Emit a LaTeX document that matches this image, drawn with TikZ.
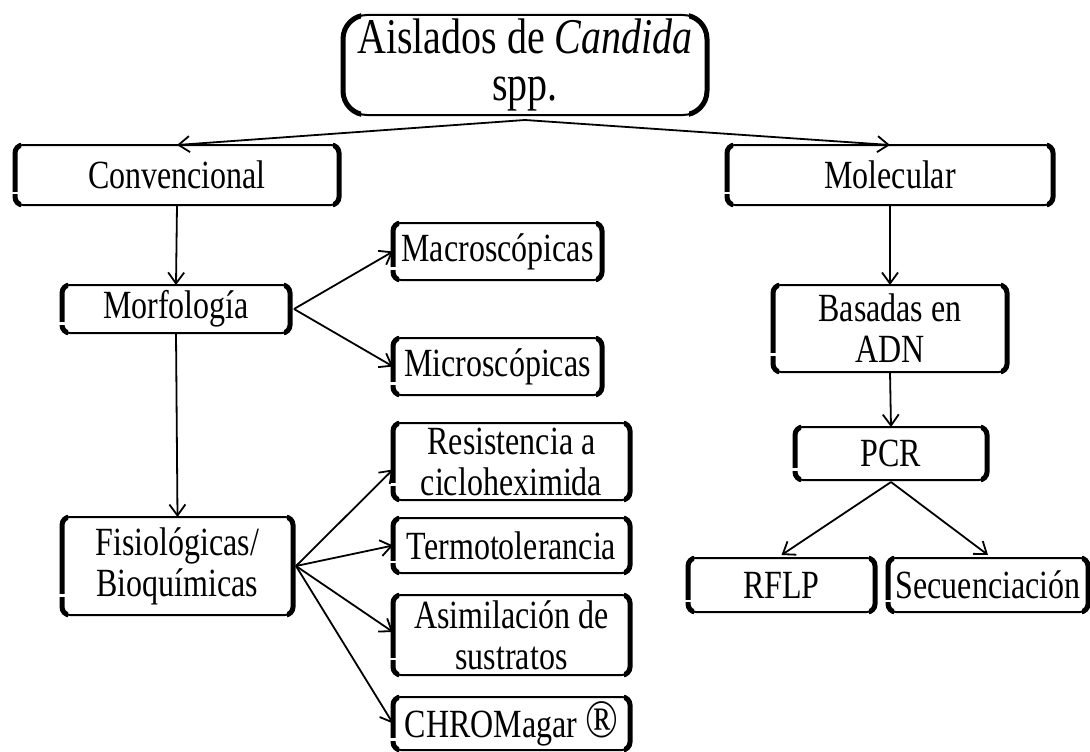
\documentclass[tikz,border=0pt]{standalone}
\usepackage{graphicx}
\usepackage{fontspec}
\setmainfont[FakeStretch=0.8]{Liberation Serif}
\usetikzlibrary{arrows.meta,calc}
\newcommand\drawoutline[3]{%
  \draw[line width=2pt, rounded corners=#2] (#1.north west) rectangle (#1.south east);
  \begin{scope}
    \clip ([shift={(-8pt,8pt)}]#1.north west) rectangle ([shift={(#3,-8pt)}]#1.south west);
    \draw[line width=5pt, rounded corners=#2] (#1.north west) rectangle (#1.south east);
  \end{scope}
  \begin{scope}
    \clip ([shift={(8pt,8pt)}]#1.north east) rectangle ([shift={(-#3,-8pt)}]#1.south east);
    \draw[line width=5pt, rounded corners=#2] (#1.north west) rectangle (#1.south east);
  \end{scope}
}
\newcommand\drawgap[1]{%
  \draw[white, line width=2.5pt] ($(#1.south west)!0.2!(#1.north west)+(-4pt,0)$) -- ++(8pt,0);
}
\begin{document}
\begin{tikzpicture}[x=1pt,y=-1pt,
  box/.style={draw=none, inner sep=0pt, outer sep=0pt, align=center,
    font=\fontsize{40}{41}\selectfont},
  arr/.style={line width=1.8pt, -{Straight Barb[length=11pt,width=16pt,line width=1.8pt]}}]
\useasboundingbox (0,0) rectangle (1090,752);
\fill[white] (0,0) rectangle (1090,752);

\node[box, font=\fontsize{50}{47}\selectfont, minimum width=364pt, minimum height=100pt] (top) at (525,65) {Aislados de \textit{Candida}\\spp.};
\node[box, minimum width=324pt, minimum height=60pt] (conv) at (177,175) {Convencional};
\node[box, minimum width=326pt, minimum height=60pt] (mol) at (890,175) {Molecular};
\node[box, minimum width=228pt, minimum height=48pt] (morf) at (176,309) {Morfología};
\node[box, minimum width=209pt, minimum height=57pt] (macro) at (497.5,251.5) {Macroscópicas};
\node[box, minimum width=209pt, minimum height=57pt] (micro) at (497.5,366.5) {Microscópicas};
\node[box, minimum width=231pt, minimum height=98pt] (fisio) at (177.5,566) {Fisiológicas/\\Bioquímicas};
\node[box, minimum width=237pt, minimum height=77pt] (resist) at (511.5,461.5) {Resistencia a\\cicloheximida};
\node[box, minimum width=237pt, minimum height=55pt] (termo) at (511.5,545.5) {Termotolerancia};
\node[box, minimum width=237pt, minimum height=80pt] (asim) at (511.5,635) {Asimilación de\\sustratos};
\node[box, minimum width=237pt, minimum height=53pt] (chrom) at (511.5,723.5) {CHROMagar \scalebox{1.35}{®}};
\node[box, minimum width=234pt, minimum height=87pt] (bas) at (890,328.5) {Basadas en\\ADN};
\node[box, minimum width=192pt, minimum height=53pt] (pcr) at (891,453.5) {PCR};
\node[box, minimum width=187pt, minimum height=54pt] (rflp) at (781.5,585) {RFLP};
\node[box, minimum width=200pt, minimum height=54pt] (secu) at (988,585) {Secuenciación};

\drawoutline{top}{24pt}{18pt}
\foreach \n in {conv,mol,morf,macro,micro,fisio,resist,termo,asim,chrom,bas,pcr,rflp,secu}{
  \drawoutline{\n}{8pt}{6pt}
  \drawgap{\n}
}

\draw[arr] ([yshift=-5pt]top.south) -- (conv.north);
\draw[arr] ([yshift=-5pt]top.south) -- (mol.north);
\draw[arr] (conv.south) -- (morf.north);
\draw[arr] ([xshift=4pt]morf.east) -- (macro.west);
\draw[arr] ([xshift=4pt]morf.east) -- (micro.west);
\draw[arr] (morf.south) -- (fisio.north);
\draw[arr] ([xshift=3pt]fisio.east) -- ([yshift=-8pt]resist.west);
\draw[arr] ([xshift=3pt]fisio.east) -- (termo.west);
\draw[arr] ([xshift=3pt]fisio.east) -- ([yshift=3pt]asim.west);
\draw[arr] ([xshift=3pt]fisio.east) -- (chrom.west);
\draw[arr] (mol.south) -- (bas.north);
\draw[arr] (bas.south) -- (pcr.north);
\draw[arr] ([yshift=-2pt]pcr.south) -- ([yshift=3pt]rflp.north);
\draw[arr] ([yshift=-2pt]pcr.south) -- ([yshift=3pt]secu.north);
\end{tikzpicture}
\end{document}
